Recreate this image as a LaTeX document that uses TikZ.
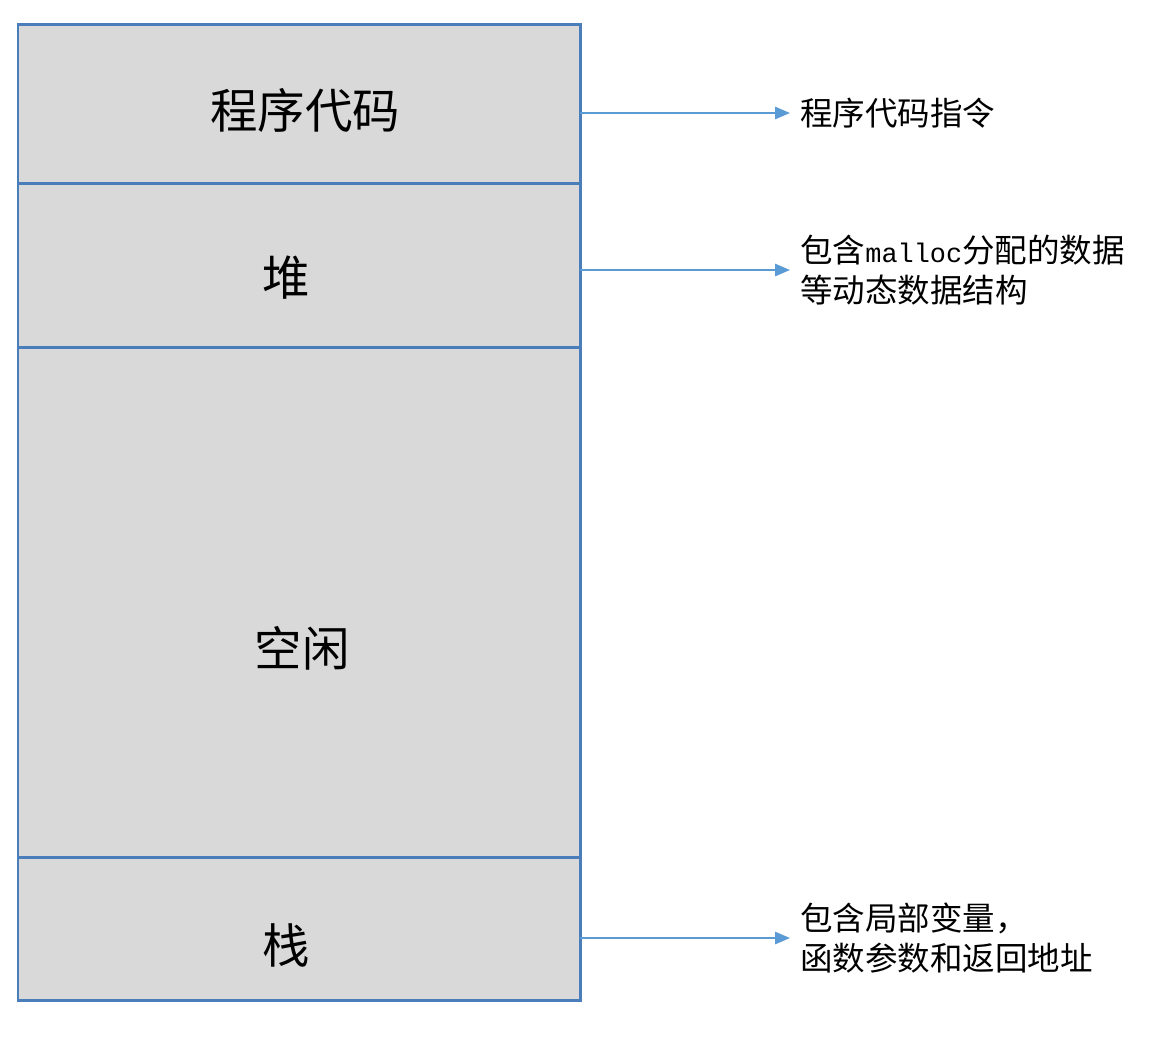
\documentclass[tikz,border=0pt]{standalone}
\usepackage{fontspec}
\newfontfamily\cjk{Noto Sans CJK SC}
\newfontfamily\mono{Liberation Mono}
\usetikzlibrary{positioning,arrows.meta}
\definecolor{memline}{HTML}{4A7EBB}
\definecolor{memfill}{HTML}{D9D9D9}
\definecolor{arrowline}{HTML}{5B9BD5}
\begin{document}
\begin{tikzpicture}[
        section/.style={draw=memline,line width=1.7pt,fill=memfill,minimum width=11.24cm,inner sep=0pt,outer sep=0pt},
        big/.style={font=\cjk\fontsize{27}{32}\selectfont},
        note/.style={anchor=west,align=left,inner xsep=0.2cm,inner ysep=0pt,font=\cjk\fontsize{18.5}{22.7}\selectfont},
        pointer/.style={draw=arrowline,line width=1pt,-{Triangle[length=8.5pt,width=7pt]}}]
        \useasboundingbox (0,0) rectangle (23.44,-20.74);
        %% Memory layout
        \node[section,minimum height=3.18cm,anchor=north west] (code) at (0.36,-0.48) {};
        \node[section,minimum height=3.28cm,below=0pt of code] (heap) {};
        \node[section,minimum height=10.2cm,below=0pt of heap] (free) {};
        \node[section,minimum height=2.86cm,below=0pt of free] (stack) {};
        \node[big] (codelabel) at (6.1,-2.2) {程序代码};
        \node[big] (heaplabel) at (5.72,-5.56) {堆};
        \node[big] (freelabel) at (6.04,-12.96) {空闲};
        \node[big] (stacklabel) at (5.72,-18.9) {栈};
        %% Notes and pointers
        \node[note] (codenote) at (15.8,-2.26) {程序代码指令};
        \node[note] (heapnote) at (15.8,-5.4) {包含{\mono\fontsize{15.3}{22.7}\selectfont malloc}分配的数据\\等动态数据结构};
        \node[note] (stacknote) at (15.8,-18.76) {包含局部变量，\\函数参数和返回地址};
        \draw[pointer] (code.east |- codenote.west) -- (codenote.west);
        \draw[pointer] (heap.east |- heapnote.west) -- (heapnote.west);
        \draw[pointer] (stack.east |- stacknote.west) -- (stacknote.west);
    \end{tikzpicture}
\end{document}
